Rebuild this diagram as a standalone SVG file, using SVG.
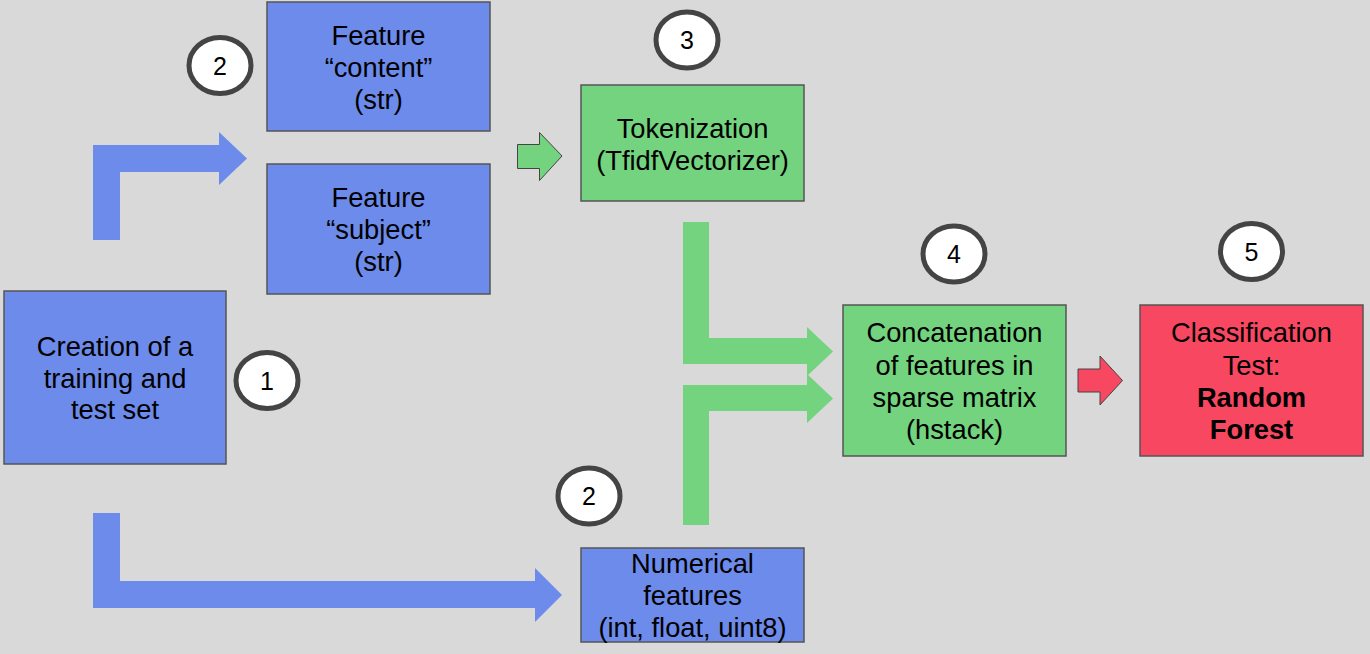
<svg xmlns="http://www.w3.org/2000/svg" width="1370" height="654" viewBox="0 0 1370 654">
<style>
.bg{fill:#d9d9d9}
.box{stroke:#555555;stroke-width:1.5}
.blue{fill:#6d8beb}
.green{fill:#73d37e}
.red{fill:#f84760}
.t{font-family:"Liberation Sans",Arial,sans-serif;font-size:27.3px;fill:#000;text-anchor:middle}
.b{font-weight:bold}
.num circle,.num ellipse{fill:#ffffff;stroke:#444444;stroke-width:5}
.n{font-family:"Liberation Sans",Arial,sans-serif;font-size:25px;fill:#000;text-anchor:middle}
.outl{stroke:#444444;stroke-width:1}
</style>
<rect class="bg" x="0" y="0" width="1370" height="654"/>
<g id="connectors">
  <polygon class="blue" points="93,240 93,145 219,145 219,132 247,158.5 219,185 219,172 120,172 120,240"/>
  <polygon class="blue" points="93,513 120,513 120,581 535,581 535,568 562,595 535,622 535,608 93,608"/>
  <polygon class="green outl" points="517.5,144.5 539.5,144.5 539.5,132.5 562,156 539.5,180.5 539.5,168.5 517.5,168.5"/>
  <polygon class="green" points="683,222 709,222 709,338 807,338 807,327 833,351.5 807,376 807,364 683,364"/>
  <polygon class="green" points="683,525 683,385 807,385 807,374 833,398.5 807,423 807,411 709,411 709,525"/>
  <polygon class="red outl" points="1078,369 1100,369 1100,356 1122.5,380.5 1100,405 1100,392 1078,392"/>
</g>
<g id="node-creation">
  <rect class="box blue" x="4" y="291" width="222" height="173"/>
  <text class="t" x="115" y="356">Creation of a</text>
  <text class="t" x="115" y="387.5">training and</text>
  <text class="t" x="115" y="419">test set</text>
</g>
<g id="node-content">
  <rect class="box blue" x="267" y="2" width="223" height="129"/>
  <text class="t" x="378.5" y="45">Feature</text>
  <text class="t" x="378.5" y="77">“content”</text>
  <text class="t" x="378.5" y="109">(str)</text>
</g>
<g id="node-subject">
  <rect class="box blue" x="267" y="164" width="223" height="130"/>
  <text class="t" x="378.5" y="207">Feature</text>
  <text class="t" x="378.5" y="239">“subject”</text>
  <text class="t" x="378.5" y="271">(str)</text>
</g>
<g id="node-tokenization">
  <rect class="box green" x="581" y="85" width="223" height="116"/>
  <text class="t" x="692.5" y="138">Tokenization</text>
  <text class="t" x="692.5" y="170">(TfidfVectorizer)</text>
</g>
<g id="node-concatenation">
  <rect class="box green" x="843" y="305" width="223" height="151"/>
  <text class="t" x="954.5" y="342">Concatenation</text>
  <text class="t" x="954.5" y="374.5">of features in</text>
  <text class="t" x="954.5" y="406.5">sparse matrix</text>
  <text class="t" x="954.5" y="438.5">(hstack)</text>
</g>
<g id="node-classification">
  <rect class="box red" x="1140" y="305" width="223" height="151"/>
  <text class="t" x="1251.5" y="342">Classification</text>
  <text class="t" x="1251.5" y="374.5">Test:</text>
  <text class="t b" x="1251.5" y="406.5">Random</text>
  <text class="t b" x="1251.5" y="438.5">Forest</text>
</g>
<g id="node-numerical">
  <rect class="box blue" x="581" y="548" width="223" height="94"/>
  <text class="t" x="692.5" y="573">Numerical</text>
  <text class="t" x="692.5" y="605">features</text>
  <text class="t" x="692.5" y="637">(int, float, uint8)</text>
</g>
<g id="step-1" class="num">
  <ellipse cx="267" cy="380.5" rx="31" ry="28"/>
  <text class="n" x="267" y="389.5">1</text>
</g>
<g id="step-2a" class="num">
  <ellipse cx="220" cy="65.5" rx="31" ry="28"/>
  <text class="n" x="220" y="74.5">2</text>
</g>
<g id="step-3" class="num">
  <ellipse cx="687" cy="40" rx="31" ry="28"/>
  <text class="n" x="687" y="49">3</text>
</g>
<g id="step-4" class="num">
  <ellipse cx="954" cy="254" rx="31" ry="28"/>
  <text class="n" x="954" y="263">4</text>
</g>
<g id="step-5" class="num">
  <ellipse cx="1251.5" cy="251.5" rx="31" ry="28"/>
  <text class="n" x="1251.5" y="260.5">5</text>
</g>
<g id="step-2b" class="num">
  <ellipse cx="589" cy="496" rx="31" ry="28"/>
  <text class="n" x="589" y="505">2</text>
</g>
</svg>
